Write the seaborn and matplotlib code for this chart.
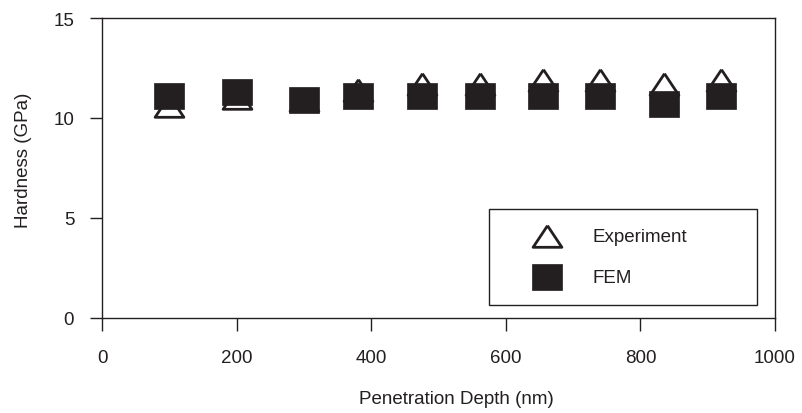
import numpy as np
import pandas as pd
import seaborn as sns
import matplotlib.pyplot as plt

# values
depth = [100, 200, 300, 380, 475, 562, 655, 740, 835, 920]
hardness_exp = [10.6, 11.0, 10.9, 11.4, 11.7, 11.7, 11.9, 11.9, 11.7, 11.9]
hardness_fem = [11.1, 11.3, 10.9, 11.1, 11.1, 11.1, 11.1, 11.1, 10.7, 11.1]
x_ticks = [0, 200, 400, 600, 800, 1000]
y_ticks = [0, 5, 10, 15]

ink = '#231f20'
fs = 13.5

sns.set_style("white")
plt.rcParams['font.family'] = ['Liberation Sans', 'DejaVu Sans']
plt.rcParams['text.color'] = ink
plt.rcParams['axes.labelcolor'] = ink
plt.rcParams['xtick.color'] = ink
plt.rcParams['ytick.color'] = ink

df = pd.DataFrame({"depth": depth, "exp": hardness_exp, "fem": hardness_fem})

# slightly flattened shapes, like the original print
tri = [(0, 0.75), (-1, -0.75), (1, -0.75), (0, 0.75)]
sq = [(-1, -0.84), (1, -0.84), (1, 0.84), (-1, 0.84), (-1, -0.84)]

fig = plt.figure(figsize=(8.02, 4.14), dpi=100)
ax = fig.add_axes([0.1272, 0.2295, 0.8391, 0.7246])

sns.scatterplot(data=df, x="depth", y="exp", ax=ax, marker=tri, s=430,
                facecolor='white', edgecolor=ink, linewidth=2.0,
                label="Experiment", zorder=3)
sns.scatterplot(data=df, x="depth", y="fem", ax=ax, marker=sq, s=470,
                color=ink, edgecolor=ink, linewidth=0.5,
                label="FEM", zorder=4)

ax.set_xlim(0, 1000)
ax.set_ylim(0, 15)
ax.set_xticks(x_ticks)
ax.set_yticks(y_ticks)
ax.tick_params(axis='both', direction='out', length=9, width=1.0,
               labelsize=fs, top=False, right=False,
               bottom=True, left=True)
ax.tick_params(axis='x', pad=13)
ax.tick_params(axis='y', pad=11)
for sp in ax.spines.values():
    sp.set_color(ink)
    sp.set_linewidth(1.0)

ax.set_xlabel("Penetration Depth (nm)", fontsize=fs)
ax.set_ylabel("Hardness (GPa)", fontsize=fs)
ax.xaxis.set_label_coords(0.526, -0.24)
ax.yaxis.set_label_coords(-0.104, 0.53)

leg = ax.legend(loc='lower left', bbox_to_anchor=(0.575, 0.043, 0.398, 0.32),
                mode='expand', frameon=True, fancybox=False, framealpha=1,
                edgecolor=ink, fontsize=fs, scatterpoints=1,
                borderpad=1.0, labelspacing=1.3, handlelength=4.2,
                handletextpad=0.3, borderaxespad=0)
leg.get_frame().set_linewidth(1.0)

fig.savefig("out.png", dpi=100)
